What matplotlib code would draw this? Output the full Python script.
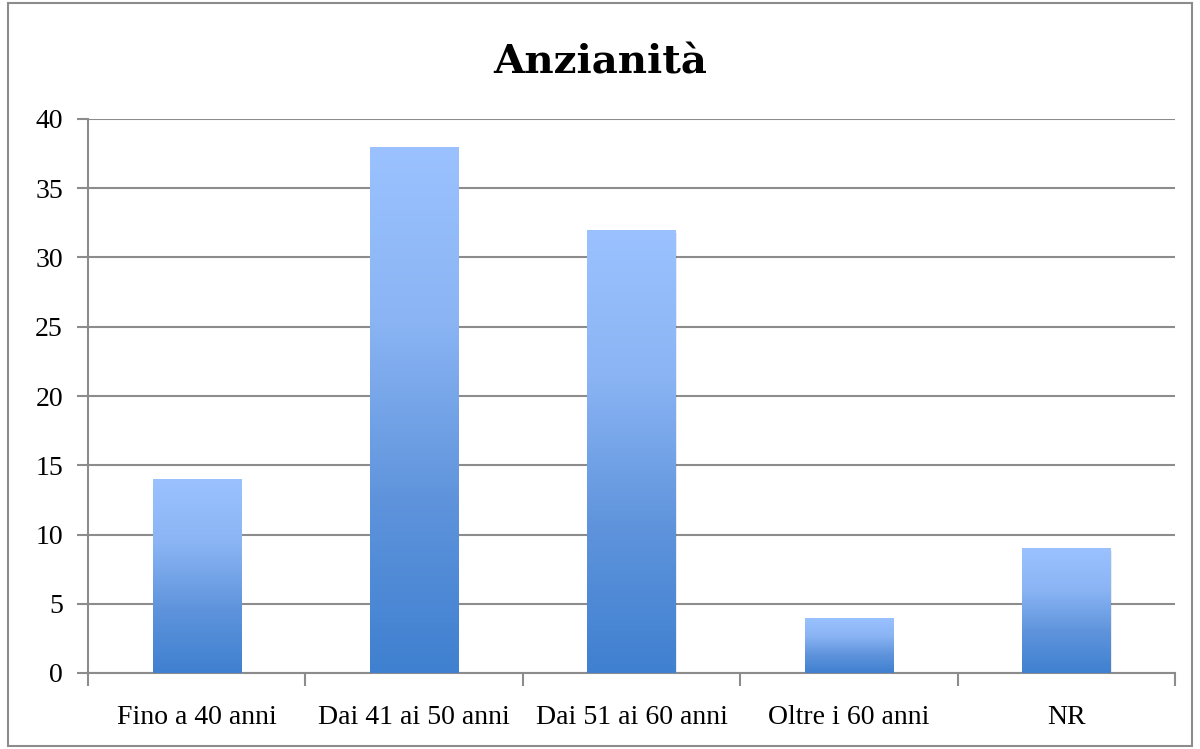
import matplotlib.pyplot as plt
import numpy as np
from matplotlib.colors import LinearSegmentedColormap
from matplotlib.patches import Rectangle

categories = ["Fino a 40 anni", "Dai 41 ai 50 anni", "Dai 51 ai 60 anni", "Oltre i 60 anni", "NR"]
values = [14, 38, 32, 4, 9]
yticks = [0, 5, 10, 15, 20, 25, 30, 35, 40]

label_font = "Liberation Serif"
title_font = "DejaVu Serif"

grad = LinearSegmentedColormap.from_list("bar", ["#3f80d0", "#5f94dc", "#8ab4f4", "#9bc2ff"])

fig = plt.figure(figsize=(12, 7.49), dpi=100)
# outer chart frame
fig.patches.append(Rectangle((0.007, 0.004), 0.986, 0.992, transform=fig.transFigure,
                             fill=False, edgecolor="#8c8c8c", linewidth=1.5))
ax = fig.add_axes([88 / 1200, 1 - 673 / 749, (1175 - 88) / 1200, (673 - 119) / 749])

x = np.arange(len(categories))
width = 0.405
gradient = np.linspace(0, 1, 256).reshape(-1, 1)
for xi, v in zip(x, values):
    # soft shadow
    ax.add_patch(Rectangle((xi - width / 2 + 0.006, -0.2), width, v, facecolor="#000000",
                           alpha=0.08, linewidth=0, zorder=2))
    bar = Rectangle((xi - width / 2, 0), width, v, facecolor="none", linewidth=0, zorder=3)
    ax.add_patch(bar)
    im = ax.imshow(gradient, cmap=grad, aspect="auto", origin="lower",
                   extent=(xi - width / 2, xi + width / 2, 0, v), zorder=3)
    im.set_clip_path(bar)

ax.set_xlim(-0.5, len(categories) - 0.5)
ax.set_ylim(0, 40)
ax.set_yticks(yticks)
ax.set_yticklabels([str(t) for t in yticks], fontfamily=label_font, fontsize=20)
ax.yaxis.grid(True, color="#8c8c8c", linewidth=1.5)
ax.set_axisbelow(True)

ax.set_xticks(x)
ax.set_xticklabels(categories, fontfamily=label_font, fontsize=20)
ax.tick_params(axis="x", length=0, pad=23)
ax.set_xticks(np.arange(-0.5, len(categories)), minor=True)
ax.tick_params(axis="x", which="minor", length=9, width=1.5, color="#8c8c8c")
ax.tick_params(axis="y", length=8, width=1.5, color="#8c8c8c", pad=10)

for s in ["top", "right"]:
    ax.spines[s].set_visible(False)
for s in ["left", "bottom"]:
    ax.spines[s].set_color("#8c8c8c")
    ax.spines[s].set_linewidth(1.5)

fig.text(0.5, 1 - 62 / 749, "Anzianità", ha="center", va="center",
         fontfamily=title_font, fontweight="bold", fontsize=29)

fig.savefig("out.png", dpi=100)
